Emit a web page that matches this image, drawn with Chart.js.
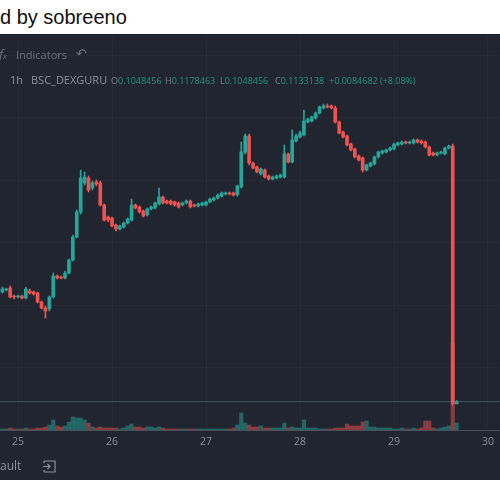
<!DOCTYPE html>
<html>
<head>
<meta charset="utf-8">
<script src="https://cdn.jsdelivr.net/npm/chart.js@4.4.0/dist/chart.umd.min.js"></script>
<style>
  html, body { margin: 0; padding: 0; background: #fff; }
  body { width: 500px; height: 500px; position: relative; overflow: hidden; font-family: "Liberation Sans", Arial, sans-serif; }
  #title { position: absolute; left: 0; top: 7px; font-size: 20px; line-height: 20px; color: #111; }
  #panel { position: absolute; left: 0; top: 34px; width: 500px; height: 446px; background: #21252f; border-top: 1px solid #171a21; box-sizing: border-box; }
  #chart { position: absolute; left: 0; top: 0; }
  .t { position: absolute; white-space: nowrap; font-family: "Open Sans", sans-serif; }
  .tool { color: #6e727c; font-size: 11px; line-height: 12px; }
  .sym { color: #8e919a; font-size: 11px; line-height: 14px; }
  .ohlc { color: #229487; font-size: 9px; line-height: 12px; }
  .ohlc b { font-weight: normal; color: #7d808a; }
</style>
</head>
<body>
<div id="title">d by sobreeno</div>
<div id="panel">
  <canvas id="chart" width="500" height="445"></canvas>
  <div class="t tool" style="left:-1px; top:13px; font-style:italic; font-size:13px;">f<span style="font-size:8px">x</span></div>
  <div class="t tool" style="left:16px; top:14px;">Indicators</div>
  <div class="t tool" style="left:76px; top:12px; font-size:13px;">&#8630;</div>
  <div class="t sym" style="left:10px; top:38px;">1h</div>
  <div class="t sym" style="left:31px; top:38px;">BSC_DEXGURU</div>
  <div class="t ohlc" style="left:111px; top:40px;"><b>O</b>0.1048456</div>
  <div class="t ohlc" style="left:165px; top:40px;"><b>H</b>0.1178463</div>
  <div class="t ohlc" style="left:220px; top:40px;"><b>L</b>0.1048456</div>
  <div class="t ohlc" style="left:275px; top:40px;"><b>C</b>0.1133138</div>
  <div class="t ohlc" style="left:329px; top:40px;">+0.0084682 (+8.08%)</div>
  <div class="t sym" style="left:0px; top:424px; font-size:12px;">ault</div>
  <svg style="position:absolute; left:42px; top:425px;" width="15" height="13" viewBox="0 0 15 13">
    <path d="M2 1 H13 V12 H2 M2 1 V3 M2 10 V12" fill="none" stroke="#8e919a" stroke-width="1.2"/>
    <path d="M1 6.5 H8 M5.5 4 L8 6.5 L5.5 9" fill="none" stroke="#8e919a" stroke-width="1.2"/>
  </svg>
</div>
<script>
// hours counted from 25th 00:00, one candle per hour
const hoursFrom25 = [-4,-3,-2,-1,0,1,2,3,4,5,6,7,8,9,10,11,12,13,14,15,16,17,18,19,20,21,22,23,
  24,25,26,27,28,29,30,31,32,33,34,35,36,37,38,39,40,41,42,43,44,45,46,47,
  48,49,50,51,52,53,54,55,56,57,58,59,60,61,62,63,64,65,66,67,68,69,70,71,
  72,73,74,75,76,77,78,79,80,81,82,83,84,85,86,87,88,89,90,91,92,93,94,95,
  96,97,98,99,100,101,102,103,104,105,106,107,108,109,110,111,112];

const opens = [0.552,0.560,0.568,0.536,0.532,0.536,0.528,0.556,0.552,0.548,0.512,0.488,0.484,0.532,0.616,0.612,
  0.608,0.628,0.680,0.772,0.872,0.988,1.008,0.968,0.992,0.988,0.900,0.852,
  0.848,0.820,0.804,0.812,0.828,0.840,0.900,0.892,0.876,0.860,0.884,0.888,0.904,0.932,0.916,0.916,0.912,0.908,0.900,0.908,0.916,0.900,0.896,0.900,
  0.900,0.912,0.920,0.928,0.936,0.944,0.948,0.948,0.940,0.972,1.112,1.176,1.068,1.052,1.024,1.040,1.016,1.004,1.008,1.012,1.012,1.104,1.072,1.156,
  1.172,1.180,1.232,1.236,1.248,1.268,1.288,1.296,1.296,1.288,1.232,1.192,1.176,1.144,1.124,1.096,1.088,1.040,1.056,1.064,1.092,1.108,1.112,1.120,
  1.124,1.140,1.144,1.152,1.148,1.148,1.160,1.156,1.152,1.132,1.108,1.100,1.108,1.104,1.128,1.136,0.1048456];

const highs = [0.572,0.568,0.576,0.540,0.540,0.540,0.572,0.564,0.556,0.552,0.516,0.496,0.536,0.628,0.620,0.616,
  0.636,0.684,0.780,0.880,1.040,1.032,1.016,0.996,1.000,0.996,0.904,0.856,
  0.852,0.824,0.820,0.832,0.848,0.924,0.904,0.896,0.880,0.888,0.896,0.912,0.968,0.936,0.920,0.920,0.916,0.912,0.912,0.920,0.920,0.904,0.908,0.912,
  0.916,0.928,0.932,0.944,0.952,0.952,0.952,0.952,0.980,1.152,1.184,1.184,1.072,1.056,1.048,1.044,1.020,1.016,1.020,1.024,1.140,1.108,1.200,1.184,
  1.196,1.280,1.248,1.256,1.272,1.296,1.304,1.304,1.300,1.296,1.236,1.196,1.180,1.148,1.128,1.100,1.092,1.064,1.072,1.096,1.116,1.120,1.124,1.132,
  1.148,1.152,1.156,1.156,1.156,1.164,1.164,1.160,1.156,1.136,1.112,1.112,1.116,1.132,1.140,1.144,0.1178463];

const lows = [0.548,0.556,0.528,0.524,0.528,0.524,0.524,0.544,0.540,0.508,0.484,0.448,0.476,0.528,0.604,0.604,
  0.604,0.624,0.676,0.768,0.864,0.980,0.952,0.960,0.976,0.896,0.836,0.832,
  0.812,0.796,0.800,0.808,0.824,0.836,0.884,0.868,0.852,0.856,0.880,0.884,0.900,0.904,0.904,0.900,0.896,0.888,0.896,0.904,0.888,0.892,0.892,0.896,
  0.896,0.908,0.916,0.924,0.932,0.940,0.940,0.936,0.936,0.968,1.104,1.060,1.044,1.028,1.020,1.008,1.000,1.000,1.004,1.008,1.008,1.068,1.068,1.152,
  1.168,1.176,1.228,1.232,1.244,1.264,1.284,1.288,1.284,1.228,1.184,1.168,1.136,1.116,1.088,1.076,1.032,1.036,1.052,1.060,1.088,1.104,1.108,1.116,
  1.120,1.136,1.140,1.144,1.144,1.144,1.148,1.144,1.128,1.096,1.096,1.096,1.104,1.100,1.124,0.100,0.1048456];

const closes = [0.564,0.564,0.532,0.532,0.536,0.528,0.564,0.548,0.544,0.512,0.488,0.476,0.532,0.616,0.608,0.608,
  0.628,0.680,0.772,0.872,1.008,1.012,0.960,0.988,0.984,0.900,0.840,0.840,
  0.816,0.804,0.816,0.828,0.844,0.900,0.888,0.872,0.856,0.884,0.892,0.908,0.932,0.908,0.908,0.904,0.900,0.892,0.908,0.916,0.892,0.896,0.904,0.908,
  0.912,0.924,0.928,0.940,0.948,0.948,0.944,0.940,0.976,1.112,1.176,1.068,1.048,1.032,1.044,1.012,1.004,1.012,1.016,1.020,1.104,1.072,1.160,1.176,
  1.188,1.236,1.244,1.252,1.268,1.292,1.296,1.292,1.288,1.232,1.188,1.172,1.140,1.120,1.092,1.080,1.040,1.060,1.068,1.092,1.112,1.116,1.120,1.128,
  1.144,1.148,1.152,1.148,1.152,1.160,1.152,1.148,1.132,1.100,1.100,1.108,1.112,1.128,1.136,0.105,0.1133138];

// volume, thousands
const volumesK = [1,1,2,1,1,1,2,1,1,2,2,3,5,10,4,3,
  4,8,13,12,12,10,7,3,2,3,2,2,
  2,2,1,2,4,6,3,3,2,3,3,2,3,2,1,1,1,1,1,1,1,1,1,1,
  1,1,1,1,1,1,1,2,5,17,7,5,3,3,4,2,2,2,2,2,7,2,3,2,
  2,10,2,2,2,1,1,1,1,2,2,2,6,4,4,4,8,9,3,3,2,2,2,2,
  1,1,2,1,1,2,1,2,9,9,2,1,2,3,4,87,7];

const dayTicks = [0, 24, 48, 72, 96, 120];
const dayLabels = ['25', '26', '27', '28', '29', '30'];
const lastPrice = 0.1133138;

const xMin = -4.6, xMax = 123.06;
const UP = '#26a69a', DOWN = '#ef5350';
const UP_VOL = 'rgba(38,166,154,0.5)', DOWN_VOL = 'rgba(239,83,80,0.5)';

const isUp = i => closes[i] >= opens[i];

const bodies = hoursFrom25.map((h, i) => ({ x: h, y: [opens[i], closes[i]] }));
const wicks = hoursFrom25.map((h, i) => ({ x: h, y: [lows[i], highs[i]] }));
const vols = hoursFrom25.map((h, i) => ({ x: h, y: volumesK[i] }));

new Chart(document.getElementById('chart'), {
    type: 'bar',
    data: {
        datasets: [
            {
                label: 'body',
                data: bodies,
                backgroundColor: c => isUp(c.dataIndex) ? UP : DOWN,
                barThickness: 3,
                minBarLength: 1,
                grouped: false,
                yAxisID: 'y',
                order: 0
            },
            {
                label: 'wick',
                data: wicks,
                backgroundColor: c => isUp(c.dataIndex) ? UP : DOWN,
                barThickness: 1,
                grouped: false,
                yAxisID: 'y',
                order: 1
            },
            {
                type: 'line',
                label: 'last',
                data: [{ x: xMin, y: lastPrice }, { x: xMax, y: lastPrice }],
                borderColor: '#3e5663',
                borderWidth: 1,
                pointRadius: 0,
                yAxisID: 'y',
                order: 2
            },
            {
                label: 'volume',
                data: vols,
                backgroundColor: c => isUp(c.dataIndex) ? UP_VOL : DOWN_VOL,
                barThickness: 3.5,
                grouped: false,
                yAxisID: 'yv',
                order: 3
            }
        ]
    },
    options: {
        responsive: false,
        animation: false,
        layout: { padding: 0 },
        plugins: {
            legend: { display: false },
            tooltip: { enabled: false }
        },
        scales: {
            x: {
                type: 'linear',
                min: xMin,
                max: xMax,
                offset: false,
                grid: { color: 'rgba(255,255,255,0.03)', drawTicks: false, offset: false },
                border: { color: '#4a4e58' },
                ticks: {
                    color: '#8a8d96',
                    font: { family: 'Open Sans', size: 10.5 },
                    padding: 6,
                    includeBounds: false,
                    callback: v => dayLabels[dayTicks.indexOf(v)]
                },
                afterBuildTicks: s => { s.ticks = dayTicks.map(v => ({ value: v })); },
                afterFit: s => { s.height = 50; }
            },
            y: {
                min: 0,
                max: 1.58,
                grid: { color: 'rgba(255,255,255,0.018)', drawTicks: false },
                border: { display: false },
                ticks: { display: false, stepSize: 0.25 },
                afterFit: s => { s.width = 0; }
            },
            yv: {
                display: false,
                min: 0,
                max: 395
            }
        }
    }
});
</script>
</body>
</html>
